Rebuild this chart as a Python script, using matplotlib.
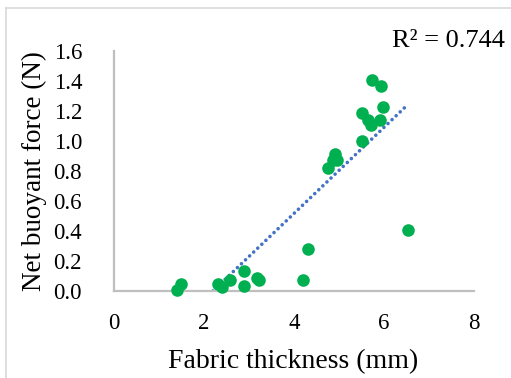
import numpy as np
import matplotlib
matplotlib.use("Agg")
import matplotlib.pyplot as plt
from matplotlib.lines import Line2D

thickness = [1.41, 1.48, 2.32, 2.39, 2.58, 2.89, 2.89, 3.17, 3.22, 4.21, 4.30, 6.54,
             4.76, 4.87, 4.91, 4.95, 5.50, 5.50, 5.65, 5.70, 5.91, 5.97, 5.73, 5.93]
force = [0.01, 0.05, 0.045, 0.025, 0.073, 0.133, 0.033, 0.085, 0.073, 0.073, 0.278, 0.407,
         0.818, 0.873, 0.913, 0.873, 1.00, 1.19, 1.14, 1.11, 1.14, 1.23, 1.41, 1.37]
xticks = [0, 2, 4, 6, 8]
yticks = [0.0, 0.2, 0.4, 0.6, 0.8, 1.0, 1.2, 1.4, 1.6]
r2_label = "R² = 0.744"

plt.rcParams['font.family'] = ['Liberation Serif', 'DejaVu Serif']

W, H = 511, 378
fig = plt.figure(figsize=(W / 100, H / 100), dpi=100)
ax = fig.add_axes([114 / W, 1 - 291 / H, 360 / W, 240 / H])

ax.scatter(thickness, force, s=82, color='#00B050', zorder=3, linewidths=0, clip_on=False)

x = np.array(thickness)
y = np.array(force)
k, b = np.polyfit(x, y, 1)
x0 = max(x.min(), -b / k)
xs = np.array([x0, x.max()])
ax.plot(xs, k * xs + b, linestyle=(0, (0.01, 1.55)), color='#4472C4', linewidth=2.6,
        dash_capstyle='round', zorder=2)

ax.set_xlim(0, 8)
ax.set_ylim(0, 1.6)
ax.set_xticks(xticks)
ax.set_yticks(yticks)
ax.set_xticklabels([str(t) for t in xticks])
ax.set_yticklabels([f"{t:.1f}" for t in yticks])
ax.tick_params(length=0, labelsize=16.5, colors='#000000')
ax.tick_params(axis='x', pad=16)
ax.tick_params(axis='y', pad=23)
for s in ['top', 'right']:
    ax.spines[s].set_visible(False)
for s in ['left', 'bottom']:
    ax.spines[s].set_color('#BFBFBF')
    ax.spines[s].set_linewidth(1.6)

fig.text(293 / W, 1 - 368 / H, "Fabric thickness (mm)", fontsize=20, ha='center', va='baseline')
fig.text(34 / W, 1 - 171 / H, "Net buoyant force (N)", fontsize=19.5, ha='center', va='center',
         rotation=90)
fig.text(505 / W, 1 - 47 / H, r2_label, fontsize=19, ha='right', va='baseline')

# chart area border (top and left visible)
fig.add_artist(Line2D([6 / W, 1.0], [1 - 8 / H, 1 - 8 / H], color='#D9D9D9', linewidth=1.2))
fig.add_artist(Line2D([6 / W, 6 / W], [0, 1 - 8 / H], color='#D9D9D9', linewidth=1.2))

fig.savefig("out.png", dpi=100)
